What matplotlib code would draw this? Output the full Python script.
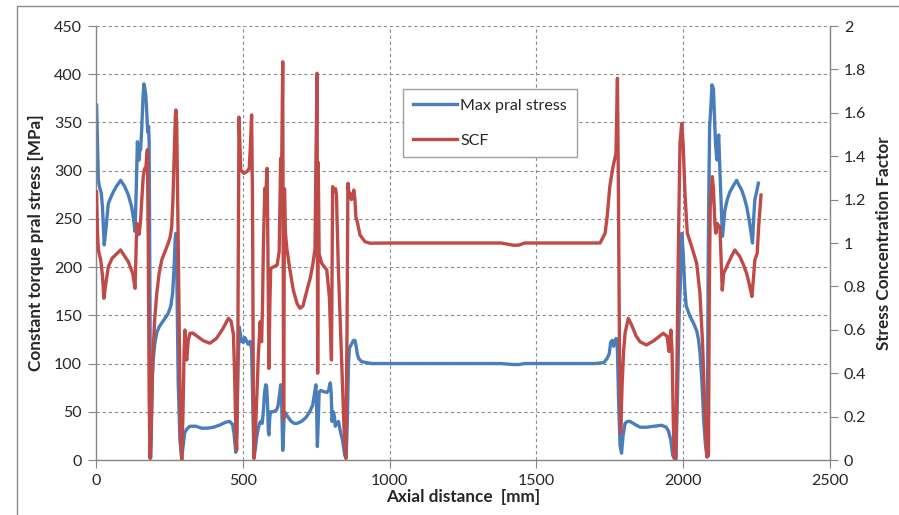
import matplotlib
matplotlib.use("Agg")
import matplotlib.pyplot as plt
from matplotlib.patches import Rectangle

plt.rcParams['font.family'] = ['Lato', 'DejaVu Sans']

# ---- data ----
stress_x = [2, 5, 8, 12, 18, 22, 28, 34, 42, 50, 59, 70, 84, 97, 110, 121, 128, 133, 137, 141, 145, 147, 150, 152,
            156, 160, 163, 166, 170, 173, 176, 179, 181, 184, 186, 189, 192, 195, 200, 207, 215, 224, 235, 246, 255,
            261, 266, 270, 272, 275, 280, 286, 292, 297, 302, 309, 320, 340, 360, 380, 400, 420, 440, 455, 465, 470,
            476, 480, 484, 488, 492, 496, 502, 507, 512, 518, 525, 530, 534, 538, 542, 548, 553, 557, 561, 566, 570,
            574, 578, 581, 584, 587, 589, 592, 595, 605, 615, 620, 626, 629, 632, 636, 638, 641, 647, 655, 665, 675,
            685, 700, 715, 728, 738, 745, 749, 751, 754, 757, 760, 765, 775, 786, 792, 798, 801, 804, 808, 812, 815,
            820, 826, 832, 840, 847, 852, 856, 860, 863, 870, 877, 882, 886, 890, 895, 905, 920, 940, 1000, 1200, 1380,
            1400, 1420, 1440, 1460, 1500, 1600, 1700, 1730, 1740, 1748, 1753, 1758, 1763, 1768, 1772, 1776, 1780, 1785,
            1790, 1795, 1802, 1810, 1819, 1835, 1853, 1875, 1900, 1927, 1942, 1950, 1958, 1964, 1970, 1975, 1980, 1986,
            1990, 1995, 2000, 2005, 2010, 2023, 2035, 2046, 2052, 2057, 2064, 2070, 2076, 2082, 2085, 2087, 2090, 2094,
            2098, 2103, 2106, 2110, 2115, 2118, 2121, 2125, 2130, 2134, 2138, 2142, 2150, 2159, 2170, 2182, 2190, 2199,
            2208, 2216, 2224, 2230, 2236, 2240, 2244, 2250, 2256]
stress_y = [368, 330, 290, 283, 277, 262, 223, 240, 266, 272, 278, 284, 290, 284, 275, 263, 250, 237, 280, 330, 318,
            311, 325, 322, 345, 375, 390, 386, 377, 360, 340, 346, 330, 150, 2, 40, 85, 104, 120, 132, 138, 142, 147,
            152, 160, 173, 200, 230, 235, 200, 80, 20, 2, 15, 28, 32, 35, 35, 33, 33, 34, 36, 39, 40, 37, 28, 8, 30, 100,
            138, 130, 123, 122, 127, 124, 120, 123, 115, 60, 2, 10, 25, 33, 38, 40, 38, 50, 70, 78, 77, 60, 30, 26, 45,
            50, 50, 52, 56, 70, 78, 65, 10, 20, 50, 48, 44, 40, 38, 38, 40, 44, 50, 57, 70, 78, 60, 14, 40, 70, 72, 71,
            70, 72, 80, 70, 40, 50, 45, 35, 38, 40, 30, 20, 5, 2, 40, 100, 116, 120, 124, 124, 118, 110, 105, 102, 101,
            100, 100, 100, 100, 99.5, 99, 99, 100, 100, 100, 100, 101, 105, 110, 122, 124, 118, 124, 126, 115, 60, 15, 7,
            25, 38, 40, 40, 37, 34, 34, 35, 36, 34, 30, 20, 5, 2, 0, 60, 150, 180, 235, 215, 180, 160, 149, 142, 134, 125,
            112, 80, 40, 15, 3, 200, 270, 346, 365, 389, 385, 360, 328, 311, 330, 337, 300, 260, 232, 245, 259, 270, 278,
            284, 290, 285, 280, 272, 263, 250, 238, 225, 250, 270, 278, 287]

scf_x = [2, 5, 8, 16, 22, 27, 32, 42, 55, 70, 84, 97, 110, 125, 133, 136, 139, 143, 147, 152, 156, 161, 165, 170, 175,
         178, 181, 184, 188, 193, 200, 207, 215, 224, 235, 246, 253, 258, 262, 266, 270, 272, 275, 279, 284, 288, 292,
         296, 300, 303, 306, 309, 314, 320, 330, 345, 365, 388, 410, 430, 451, 460, 468, 472, 476, 479, 483, 487, 490,
         493, 504, 515, 522, 526, 530, 533, 536, 538, 542, 548, 553, 559, 564, 567, 570, 575, 578, 583, 586, 589, 592,
         595, 605, 617, 624, 629, 632, 636, 639, 642, 645, 650, 660, 672, 685, 695, 705, 718, 730, 739, 746, 749, 753,
         755, 757, 760, 769, 786, 795, 802, 806, 811, 816, 819, 825, 833, 840, 846, 851, 855, 858, 862, 865, 870, 874,
         878, 882, 885, 890, 899, 916, 933, 1000, 1200, 1380, 1400, 1420, 1440, 1460, 1700, 1717, 1734, 1741, 1750,
         1761, 1771, 1776, 1779, 1783, 1787, 1792, 1797, 1802, 1813, 1825, 1840, 1853, 1875, 1900, 1932, 1945, 1952,
         1955, 1958, 1962, 1966, 1969, 1975, 1980, 1983, 1989, 1995, 2000, 2006, 2014, 2029, 2046, 2057, 2066, 2072,
         2080, 2086, 2089, 2092, 2096, 2099, 2103, 2108, 2111, 2116, 2120, 2125, 2130, 2133, 2138, 2153, 2165, 2176,
         2193, 2205, 2216, 2227, 2234, 2240, 2244, 2252, 2257, 2265]
scf_y = [1.236, 1.05, 0.968, 0.922, 0.85, 0.745, 0.80, 0.891, 0.93, 0.95, 0.968, 0.94, 0.914, 0.86, 0.791, 0.95, 1.09,
         1.06, 1.04, 1.106, 1.20, 1.306, 1.34, 1.352, 1.43, 1.0, 0.3, 0.008, 0.15, 0.46, 0.65, 0.768, 0.86, 0.922, 0.96,
         0.999, 1.03, 1.075, 1.2, 1.382, 1.58, 1.613, 1.55, 1.1, 0.5, 0.1, 0.0, 0.2, 0.5, 0.599, 0.5, 0.461, 0.55,
         0.584, 0.585, 0.57, 0.55, 0.538, 0.56, 0.6, 0.653, 0.64, 0.58, 0.4, 0.15, 0.046, 0.5, 1.58, 1.45, 1.336, 1.321,
         1.33, 1.344, 1.45, 1.59, 1.2, 0.3, 0.008, 0.1, 0.3, 0.484, 0.637, 0.545, 0.7, 0.975, 1.252, 1.22, 1.344, 0.9,
         0.422, 0.7, 0.883, 0.89, 0.899, 0.960, 1.39, 1.3, 1.835, 0.19, 1.25, 1.05, 0.975, 0.88, 0.783, 0.72, 0.699,
         0.71, 0.78, 0.84, 0.906, 0.975, 1.367, 1.782, 0.4, 1.37, 0.95, 0.906, 0.876, 0.75, 0.461, 1.26, 1.24, 1.25,
         1.221, 0.9, 0.6, 0.35, 0.1, 0.008, 0.6, 1.275, 1.22, 1.23, 1.2, 1.21, 1.244, 1.2, 1.12, 1.098, 1.037, 1.006,
         0.999, 1.0, 1.0, 1.0, 0.995, 0.99, 0.99, 1.0, 1.0, 1.0, 1.045, 1.121, 1.26, 1.352, 1.413, 1.759, 1.3, 0.5,
         0.123, 0.35, 0.5, 0.584, 0.653, 0.62, 0.57, 0.545, 0.530, 0.55, 0.584, 0.57, 0.5, 0.55, 0.599, 0.5, 0.2, 0.008,
         0.01, 0.6, 0.922, 1.459, 1.551, 1.45, 1.229, 1.045, 0.983, 0.906, 0.768, 0.538, 0.3, 0.015, 0.02, 0.8, 1.167,
         1.25, 1.306, 1.25, 1.09, 1.045, 1.09, 1.08, 1.075, 0.9, 0.783, 0.86, 0.906, 0.94, 0.968, 0.937, 0.9, 0.860,
         0.799, 0.753, 0.85, 0.922, 0.952, 1.075, 1.221]

x_ticks = [0, 500, 1000, 1500, 2000, 2500]
left_ticks = [0, 50, 100, 150, 200, 250, 300, 350, 400, 450]
right_ticks = [0, 0.2, 0.4, 0.6, 0.8, 1.0, 1.2, 1.4, 1.6, 1.8, 2.0]
right_labels = ['0', '0.2', '0.4', '0.6', '0.8', '1', '1.2', '1.4', '1.6', '1.8', '2']

BLUE = '#4A7EBB'
RED = '#BE4B48'
AXC = '#868686'
TXT = '#262626'
FS = 11.5
LFS = 12.3

fig = plt.figure(figsize=(8.99, 5.15), dpi=100)
W, H = 899, 515
fig.patches.append(Rectangle((17 / W, -0.1), 1.2, 1 - 6 / H + 0.1, transform=fig.transFigure,
                             fill=False, edgecolor='#8c8c8c', linewidth=1.0))

ax = fig.add_axes([96 / W, 1 - 460 / H, (830 - 96) / W, (460 - 26) / H])
ax2 = ax.twinx()

l1, = ax.plot(stress_x, stress_y, color=BLUE, lw=2.4, solid_joinstyle='round', label='Max pral stress')
l2, = ax2.plot(scf_x, scf_y, color=RED, lw=2.4, solid_joinstyle='round', label='SCF')

ax.set_xlim(0, 2500)
ax.set_ylim(0, 450)
ax2.set_ylim(0, 2)
ax.set_xticks(x_ticks)
ax.set_yticks(left_ticks)
ax2.set_yticks(right_ticks)
ax2.set_yticklabels(right_labels)

ax.grid(True, color='#8c8c8c', linestyle=(0, (3, 2.5)), linewidth=0.8)
ax.set_axisbelow(True)

for a in (ax, ax2):
    a.spines['top'].set_visible(False)
    for s in ('left', 'right', 'bottom'):
        a.spines[s].set_color(AXC)
        a.spines[s].set_linewidth(1.0)
ax.spines['right'].set_visible(False)
ax2.spines['left'].set_visible(False)
ax2.spines['bottom'].set_visible(False)

ax.tick_params(axis='both', direction='out', length=6, color=AXC, labelsize=FS, labelcolor=TXT, pad=4)
ax2.tick_params(axis='y', direction='out', length=6, color=AXC, labelsize=FS, labelcolor=TXT, pad=4)

ax.set_xlabel('Axial distance  [mm]', fontsize=LFS, fontweight='bold', color=TXT, labelpad=1)
ax.set_ylabel('Constant torque pral stress [MPa]', fontsize=LFS, fontweight='bold', color=TXT, labelpad=7)
ax2.set_ylabel('Stress Concentration Factor', fontsize=LFS, fontweight='bold', color=TXT, labelpad=7)

leg = ax2.legend(handles=[l1, l2], loc='upper left', bbox_to_anchor=((403 - 96) / 734, (460 - 89) / 434),
                 fontsize=FS, frameon=True, fancybox=False, edgecolor='#a0a0a0', framealpha=1,
                 handlelength=2.8, handletextpad=0.2, labelspacing=1.3, borderpad=0.6, borderaxespad=0)
leg.get_frame().set_linewidth(1.0)
for t in leg.get_texts():
    t.set_color(TXT)

fig.savefig('out.png', dpi=100)
